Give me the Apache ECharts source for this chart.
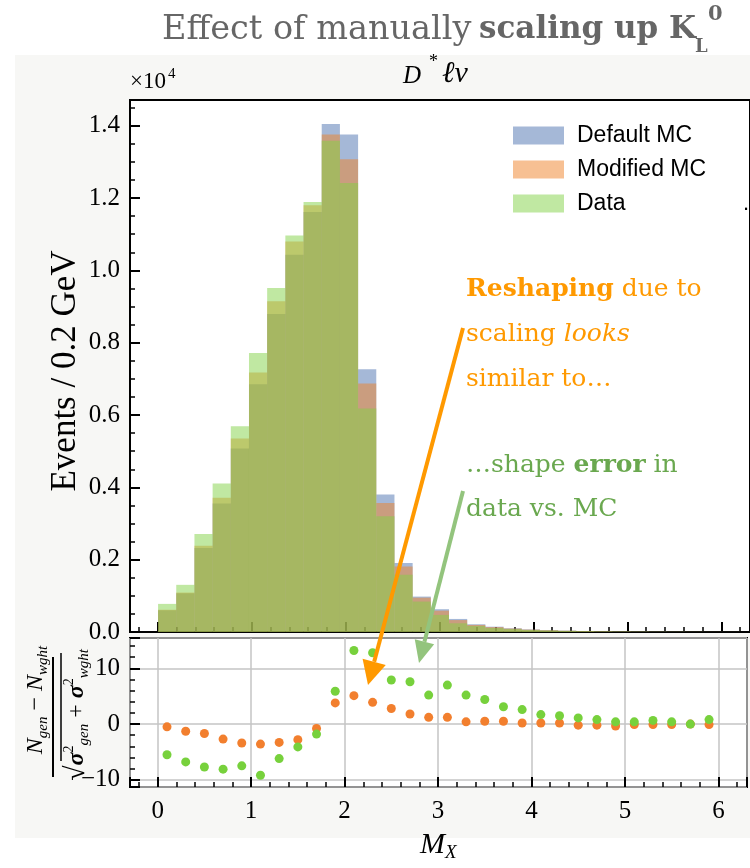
<!DOCTYPE html>
<html>
<head>
<meta charset="utf-8">
<script src="https://cdn.jsdelivr.net/npm/echarts@6/dist/echarts.min.js"></script>
<style>
html, body { margin: 0; padding: 0; background: #fff; }
#main { width: 750px; height: 868px; }
</style>
</head>
<body>
<div id="main"></div>
<script>
// histogram bins (0.2 GeV wide), bin centres in M_X
var binCenters = [0.1, 0.3, 0.5, 0.7, 0.9, 1.1, 1.3, 1.5, 1.7, 1.9, 2.1, 2.3, 2.5, 2.7, 2.9, 3.1,
	3.3, 3.5, 3.7, 3.9, 4.1, 4.3, 4.5, 4.7, 4.9, 5.1, 5.3, 5.5, 5.7, 5.9, 6.1, 6.3];
var defaultMC = [600, 1070, 2322, 3551, 5076, 6852, 8794, 10430, 11615, 14045, 13759, 7268, 3800, 1905, 979, 630,
	361, 213, 147, 102, 72, 52, 38, 28, 20, 15, 11, 8, 6, 4, 3, 2];
var modifiedMC = [615, 1090, 2386, 3709, 5354, 7176, 9146, 10799, 11798, 13759, 13074, 6871, 3570, 1812, 950, 590,
	330, 195, 135, 95, 66, 48, 35, 26, 19, 14, 10, 7, 5, 4, 3, 2];
var dataCounts = [777, 1304, 2710, 4105, 5687, 7712, 9515, 10966, 11892, 13584, 12419, 6177, 3198, 1581, 841, 472,
	241, 166, 111, 80, 56, 40, 30, 22, 16, 12, 9, 6, 5, 3, 2, 2];

// pull  (N_gen - N_wght) / sqrt(sigma_gen^2 + sigma_wght^2)
var pullX = [0.1, 0.3, 0.5, 0.7, 0.9, 1.1, 1.3, 1.5, 1.7, 1.9, 2.1, 2.3, 2.5, 2.7, 2.9,
	3.1, 3.3, 3.5, 3.7, 3.9, 4.1, 4.3, 4.5, 4.7, 4.9, 5.1, 5.3, 5.5, 5.7, 5.9];
var pullModified = [-0.5, -1.3, -1.7, -2.7, -3.4, -3.6, -3.3, -2.8, -0.8, 3.8, 5.1, 3.9, 2.8, 1.8, 1.2,
	1.2, 0.4, 0.5, 0.5, 0.2, 0.2, 0.2, -0.2, -0.2, -0.35, -0.1, -0.1, -0.1, 0.0, -0.1];
var pullData = [-5.5, -6.8, -7.7, -8.1, -7.5, -9.2, -6.2, -4.1, -1.8, 5.9, 13.2, 12.8, 7.9, 7.6, 5.2,
	7.0, 5.2, 4.4, 3.1, 2.6, 1.7, 1.5, 1.1, 0.8, 0.4, 0.4, 0.65, 0.4, 0.0, 0.8];

var seriesNames = ['Default MC', 'Modified MC', 'Data'];
var binWidth = 0.2;

var blueFill = 'rgba(76,114,176,0.5)';
var orangeFill = 'rgba(240,130,40,0.5)';
var greenFill = 'rgba(130,210,70,0.5)';
var serif = 'Liberation Serif';

function pairs(xs, ys) {
	var out = [];
	for (var i = 0; i < ys.length; i++) out.push([xs[i], ys[i]]);
	return out;
}

function histItem(params, api) {
	var lo = api.coord([api.value(0) - binWidth / 2, api.value(1)]);
	var hi = api.coord([api.value(0) + binWidth / 2, 0]);
	return {
		type: 'rect',
		shape: { x: lo[0], y: lo[1], width: hi[0] - lo[0], height: hi[1] - lo[1] },
		style: { fill: api.visual('color') }
	};
}

function histSeries(name, values, color) {
	return {
		name: name,
		type: 'custom',
		xAxisIndex: 1,
		yAxisIndex: 0,
		clip: true,
		itemStyle: { color: color },
		encode: { x: 0, y: 1 },
		renderItem: histItem,
		data: pairs(binCenters, values)
	};
}

// arrow = line + triangle head
function arrow(x0, y0, x1, y1, color, width, headLen, headHalf) {
	var dx = x1 - x0, dy = y1 - y0;
	var len = Math.sqrt(dx * dx + dy * dy);
	var ux = dx / len, uy = dy / len;
	var bx = x1 - ux * headLen, by = y1 - uy * headLen;
	return [{
		type: 'line', z: 50,
		shape: { x1: x0, y1: y0, x2: bx, y2: by },
		style: { stroke: color, lineWidth: width }
	}, {
		type: 'polygon', z: 50,
		shape: { points: [[x1, y1], [bx - uy * headHalf, by + ux * headHalf], [bx + uy * headHalf, by - ux * headHalf]] },
		style: { fill: color }
	}];
}

var xMin = -0.296, xMax = 6.306;

var tickStyle = { show: true, inside: true, length: 10, lineStyle: { color: '#000', width: 2 } };
var minorLine = { color: '#000', width: 1.5 };
var noLine = { show: false, onZero: false };

var graphics = [
	{ type: 'rect', z: -100, shape: { x: 15, y: 55, width: 740, height: 783 }, style: { fill: '#f7f7f5' } },
	// slide title
	{ type: 'text', x: 162, y: 30, z: 60, style: { text: 'Effect of manually', font: '33.5px "DejaVu Serif"', fill: '#666', verticalAlign: 'middle' } },
	{ type: 'text', x: 479, y: 30, z: 60, style: { text: 'scaling up K', font: 'bold 31px "DejaVu Serif"', fill: '#666', verticalAlign: 'middle' } },
	{ type: 'text', x: 695, y: 47, z: 60, style: { text: 'L', font: 'bold 18px "DejaVu Serif"', fill: '#666', verticalAlign: 'middle' } },
	{ type: 'text', x: 708, y: 15, z: 60, style: { text: '0', font: 'bold 21px "DejaVu Serif"', fill: '#666', verticalAlign: 'middle' } },
	// panel title D* l nu
	{ type: 'text', x: 403, y: 76, style: { text: 'D', font: 'italic 25px "Liberation Serif"', fill: '#000', verticalAlign: 'middle' } },
	{ type: 'text', x: 429, y: 62, style: { text: '*', font: '18px "Liberation Serif"', fill: '#000', verticalAlign: 'middle' } },
	{ type: 'text', x: 442, y: 74, style: { text: 'ℓν', font: 'italic 30px "Liberation Serif"', fill: '#000', verticalAlign: 'middle' } },
	// x10^4 multiplier
	{ type: 'text', x: 130, y: 82, style: { text: '×10', font: '23px "Liberation Serif"', fill: '#000', verticalAlign: 'middle' } },
	{ type: 'text', x: 168, y: 74, style: { text: '4', font: '15px "Liberation Serif"', fill: '#000', verticalAlign: 'middle' } },
	// y label top
	{ type: 'text', x: 66, y: 371, rotation: Math.PI / 2,
		style: { text: 'Events / 0.2 GeV', font: '35px "Liberation Serif"', fill: '#000', align: 'center', verticalAlign: 'middle' } },
	// pull label (fraction)
	{ type: 'group', x: 53, y: 717, rotation: Math.PI / 2, children: [
		{ type: 'text', x: 17, y: -17, style: {
			text: '{i|N}{s|gen}{n| − }{i|N}{s|wght}', align: 'center', verticalAlign: 'middle',
			rich: {
				i: { font: 'italic 24px "Liberation Serif"', fill: '#000', lineHeight: 30 },
				n: { font: '24px "Liberation Serif"', fill: '#000', lineHeight: 30 },
				s: { font: 'italic 15px "Liberation Serif"', fill: '#000', verticalAlign: 'bottom', lineHeight: 15 }
			} } },
		{ type: 'line', shape: { x1: -60, y1: 0, x2: 60, y2: 0 }, style: { stroke: '#000', lineWidth: 2 } },
		{ type: 'text', x: 2, y: 24, style: {
			text: '{r|√}{g|σ}{p|2}{s|gen}{n| + }{g|σ}{p|2}{s|wght}', align: 'center', verticalAlign: 'middle',
			rich: {
				r: { font: '28px "Liberation Serif"', fill: '#000', lineHeight: 30 },
				g: { font: 'bold italic 24px "Liberation Serif"', fill: '#000', lineHeight: 30 },
				n: { font: '24px "Liberation Serif"', fill: '#000', lineHeight: 30 },
				p: { font: '14px "Liberation Serif"', fill: '#000', verticalAlign: 'top', lineHeight: 14 },
				s: { font: 'italic 15px "Liberation Serif"', fill: '#000', verticalAlign: 'bottom', lineHeight: 15 }
			} } },
		{ type: 'line', shape: { x1: -44, y1: 8, x2: 64, y2: 8 }, style: { stroke: '#000', lineWidth: 1.5 } }
	] },
	// x label
	{ type: 'text', x: 420, y: 845, style: {
		text: '{m|M}{x|X}', verticalAlign: 'middle',
		rich: {
			m: { font: 'italic 30px "Liberation Serif"', fill: '#000', lineHeight: 34 },
			x: { font: 'italic 19px "Liberation Serif"', fill: '#000', verticalAlign: 'bottom', lineHeight: 19 }
		} } },
	{ type: 'text', x: 743, y: 204, style: { text: '.', font: '22px "Liberation Sans"', fill: '#000', verticalAlign: 'middle' } },
	// annotations
	{ type: 'text', x: 466, y: 289, z: 60, style: {
		text: '{b|Reshaping}{n| due to}', verticalAlign: 'middle',
		rich: { b: { font: 'bold 25px "DejaVu Serif"', fill: '#ff9900' }, n: { font: '25px "DejaVu Serif"', fill: '#ff9900' } } } },
	{ type: 'text', x: 466, y: 334, z: 60, style: {
		text: '{n|scaling }{i|looks}', verticalAlign: 'middle',
		rich: { i: { font: 'italic 25px "DejaVu Serif"', fill: '#ff9900' }, n: { font: '25px "DejaVu Serif"', fill: '#ff9900' } } } },
	{ type: 'text', x: 466, y: 379, z: 60, style: { text: 'similar to…', font: '25px "DejaVu Serif"', fill: '#ff9900', verticalAlign: 'middle' } },
	{ type: 'text', x: 466, y: 465, z: 60, style: {
		text: '{n|…shape }{b|error}{n| in}', verticalAlign: 'middle',
		rich: { b: { font: 'bold 25px "DejaVu Serif"', fill: '#6aa84f' }, n: { font: '25px "DejaVu Serif"', fill: '#6aa84f' } } } },
	{ type: 'text', x: 466, y: 509, z: 60, style: { text: 'data vs. MC', font: '25px "DejaVu Serif"', fill: '#6aa84f', verticalAlign: 'middle' } }
];
graphics = graphics.concat(arrow(463, 328, 368, 685, '#ff9900', 4, 24, 12));
graphics = graphics.concat(arrow(463, 491, 419, 663, '#93c47d', 4, 22, 10));

var myChart = echarts.init(document.getElementById('main'));
var option = {
	backgroundColor: '#fff',
	animation: false,
	grid: [
		{ left: 130, top: 100, width: 625, height: 532, show: true, backgroundColor: '#fff', borderColor: '#000', borderWidth: 2 },
		{ left: 130, top: 638, width: 625, height: 149, show: true, backgroundColor: '#fff', borderColor: '#000', borderWidth: 2 }
	],
	legend: {
		data: seriesNames,
		orient: 'vertical',
		left: 508,
		top: 119,
		itemWidth: 51,
		itemHeight: 18,
		itemGap: 11,
		icon: 'rect',
		selectedMode: false,
		textStyle: { fontFamily: 'Liberation Sans', fontSize: 23, color: '#000', padding: [0, 0, 0, 8] }
	},
	xAxis: [{
		gridIndex: 0, type: 'value', min: xMin, max: xMax, splitNumber: 6,
		axisLine: noLine, axisTick: tickStyle, minorTick: { show: true, splitNumber: 5, length: 5, lineStyle: minorLine },
		axisLabel: { show: false }, splitLine: { show: false }
	}, {
		gridIndex: 0, type: 'value', min: -0.3088, max: 6.5106, show: false, axisLine: noLine
	}, {
		gridIndex: 1, type: 'value', min: xMin, max: xMax, splitNumber: 6,
		axisLine: noLine, axisTick: tickStyle, minorTick: { show: true, splitNumber: 5, length: 5, lineStyle: minorLine },
		axisLabel: {
			fontFamily: serif, fontSize: 25, color: '#000', margin: 12,
			formatter: function (v) { return Math.abs(v - Math.round(v)) < 1e-6 ? String(Math.round(v)) : ''; }
		},
		splitLine: { show: true, lineStyle: { color: '#c4c4c4', width: 1.5 } }
	}],
	yAxis: [{
		gridIndex: 0, type: 'value', min: 0, max: 14711, interval: 2000,
		axisLine: noLine, axisTick: tickStyle, minorTick: { show: true, splitNumber: 4, length: 5, lineStyle: minorLine },
		axisLabel: {
			fontFamily: serif, fontSize: 25, color: '#000', margin: 10, showMaxLabel: false,
			formatter: function (v) { return v % 2000 === 0 ? (v / 1e4).toFixed(1) : ''; }
		},
		splitLine: { show: false }
	}, {
		gridIndex: 1, type: 'value', min: -11.3, max: 15.45, splitNumber: 3,
		axisLine: noLine, axisTick: tickStyle, minorTick: { show: true, splitNumber: 5, length: 5, lineStyle: minorLine },
		axisLabel: {
			fontFamily: serif, fontSize: 25, color: '#000', margin: 10,
			formatter: function (v) {
				if (Math.abs(v % 10) > 1e-6) return '';
				return v < 0 ? '\u2212' + Math.abs(v) : String(v);
			}
		},
		splitLine: { show: true, lineStyle: { color: '#c4c4c4', width: 1.5 } }
	}],
	series: [
		histSeries(seriesNames[0], defaultMC, blueFill),
		histSeries(seriesNames[1], modifiedMC, orangeFill),
		histSeries(seriesNames[2], dataCounts, greenFill),
		{
			name: 'pull modified', type: 'scatter', xAxisIndex: 2, yAxisIndex: 1,
			symbolSize: 9, itemStyle: { color: '#f27f2e', opacity: 1 },
			data: pairs(pullX, pullModified)
		},
		{
			name: 'pull data', type: 'scatter', xAxisIndex: 2, yAxisIndex: 1,
			symbolSize: 9, itemStyle: { color: '#77d13c', opacity: 1 },
			data: pairs(pullX, pullData)
		}
	],
	graphic: graphics
};
myChart.setOption(option);
</script>
</body>
</html>
